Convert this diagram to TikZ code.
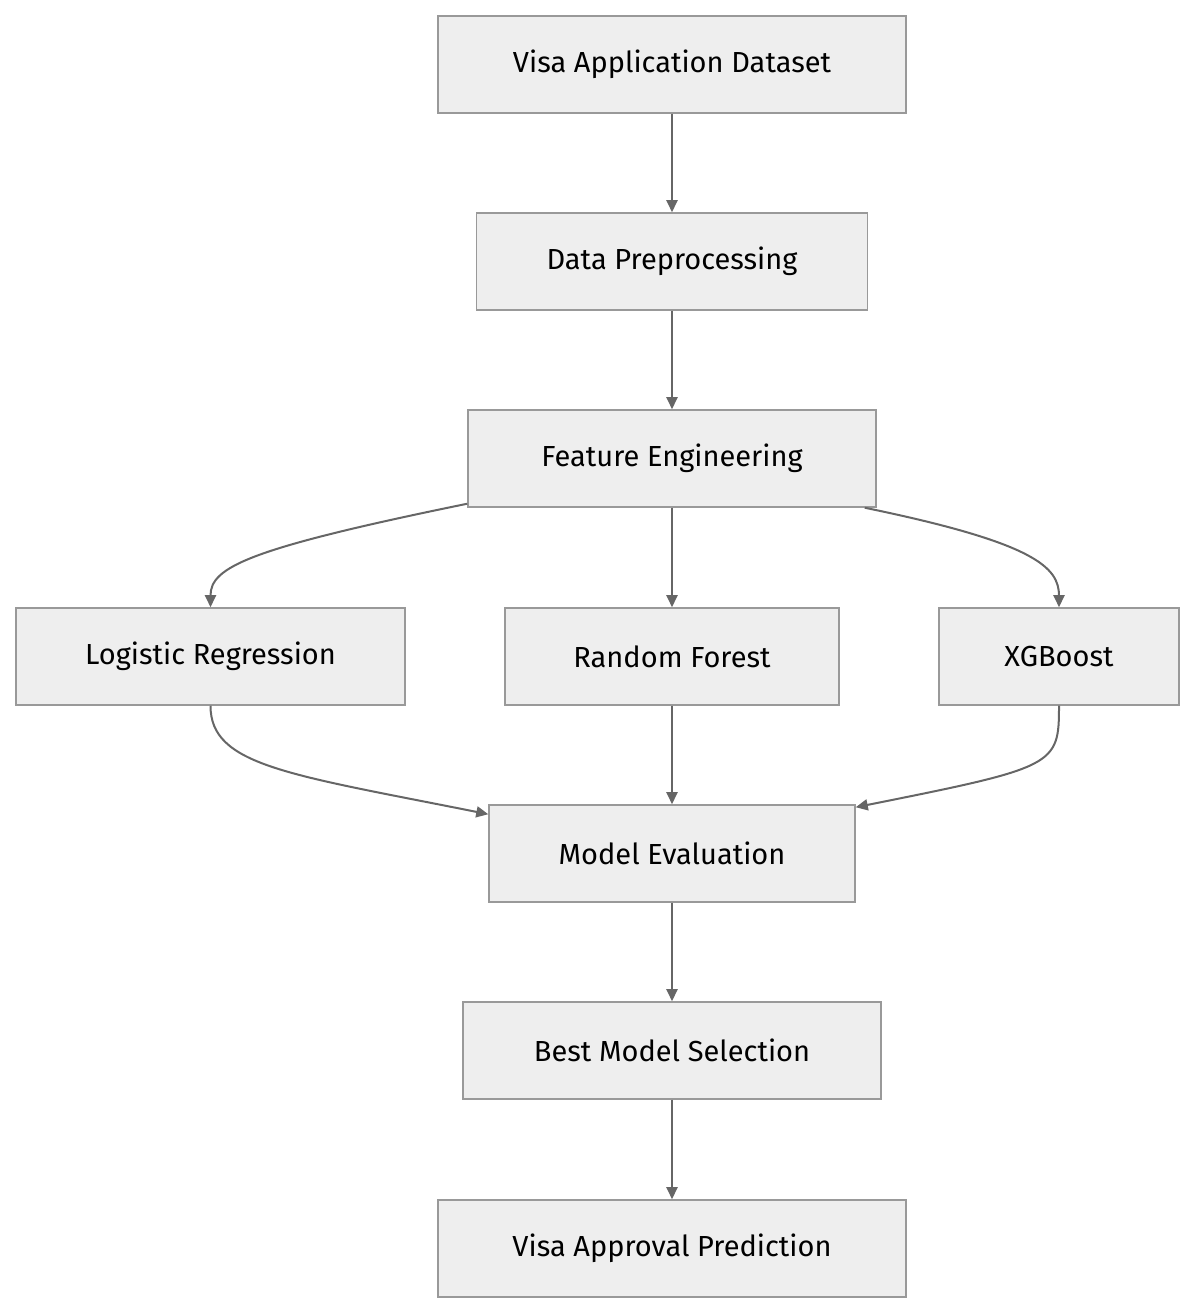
\documentclass[tikz,border=0pt]{standalone}
\usepackage{fontspec}
\setmainfont{Fira Sans}
\usetikzlibrary{arrows.meta}
\definecolor{nfill}{HTML}{EEEEEE}
\definecolor{nline}{HTML}{999999}
\definecolor{eline}{HTML}{666666}
\begin{document}
\begin{tikzpicture}[x=1pt,y=1pt,
  box/.style={draw=nline,fill=nfill,line width=1.5pt,minimum height=97pt,inner sep=0pt,font=\fontsize{29}{34}\selectfont},
  edge/.style={draw=eline,line width=2pt,-{Triangle[length=12pt,width=11pt]}}]
\useasboundingbox (0,0) rectangle (1196,1314);
\node[box,minimum width=468pt] (vad) at (672,1249.5) {Visa Application Dataset};
\node[box,minimum width=391pt] (dp) at (672,1052.5) {Data Preprocessing};
\node[box,minimum width=408pt] (fe) at (672,855.5) {Feature Engineering};
\node[box,minimum width=389pt] (lr) at (210.5,657.5) {Logistic Regression};
\node[box,minimum width=334pt] (rf) at (672,657.5) {Random Forest};
\node[box,minimum width=240pt] (xg) at (1059,657.5) {XGBoost};
\node[box,minimum width=366pt] (me) at (672,460.5) {Model Evaluation};
\node[box,minimum width=418pt] (bms) at (672,263.5) {Best Model Selection};
\node[box,minimum width=468pt] (vap) at (672,65.5) {Visa Approval Prediction};
\draw[edge] (vad) -- (dp);
\draw[edge] (dp) -- (fe);
\draw[edge] (fe) -- (rf);
\draw[edge] ([yshift=4pt]fe.south west) .. controls +(-220,-45) and +(0,40) .. (lr.north);
\draw[edge] ([xshift=-12pt]fe.south east) .. controls +(170,-35) and +(0,40) .. (xg.north);
\draw[edge] (lr.south) .. controls +(0,-60) and +(-200,40) .. ([yshift=-10pt]me.north west);
\draw[edge] (xg.south) .. controls +(0,-60) and +(200,40) .. ([yshift=-3pt]me.north east);
\draw[edge] (rf) -- (me);
\draw[edge] (me) -- (bms);
\draw[edge] (bms) -- (vap);
\end{tikzpicture}
\end{document}
